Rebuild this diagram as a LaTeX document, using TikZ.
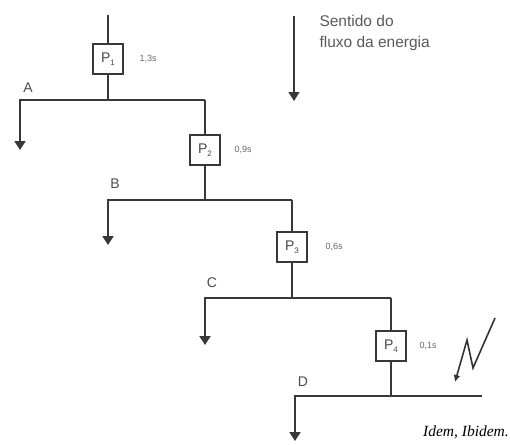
\documentclass[tikz,border=0pt]{standalone}
\usepackage{fontspec}
\setmainfont{Liberation Sans}
\newfontfamily\timesf{Liberation Serif}
\usetikzlibrary{arrows.meta}
\newcommand{\relayname}[1]{P\raisebox{-2.5pt}{\fontsize{8}{8}\selectfont #1}}
\begin{document}
\begin{tikzpicture}[x=1pt,y=-1pt,
  wire/.style={line width=2.1pt, draw=black!78},
  load/.style={wire, -{Triangle[width=11pt,length=9pt]}},
  relay/.style={draw=black!78, line width=2.1pt, minimum width=30pt, minimum height=30pt,
    inner sep=0pt, font=\fontsize{14}{14}\selectfont, text=black!72, fill=white},
  tlabel/.style={font=\fontsize{9}{9}\selectfont, text=black!60, anchor=west},
  busname/.style={font=\fontsize{14}{14}\selectfont, text=black!70},
  legend/.style={font=\fontsize{15.5}{21}\selectfont, text=black!65, align=left, anchor=north west},
  fault/.style={line width=1.6pt, draw=black!80, -{Latex[length=7pt,width=7pt]}}]
\useasboundingbox (0,0) rectangle (510,444);

% feeders and relays
\coordinate (top) at (108,15);
\node[relay] (p1) at (108,59) {\relayname{1}};
\node[relay] (p2) at (205,150) {\relayname{2}};
\node[relay] (p3) at (292,247) {\relayname{3}};
\node[relay] (p4) at (391,346) {\relayname{4}};

% bus A
\coordinate (ja) at (108,100);
\coordinate (la) at (20,100);
\coordinate (ra) at (205,100);
\coordinate (ta) at (20,150);
% bus B
\coordinate (jb) at (205,200);
\coordinate (lb) at (108,200);
\coordinate (rb) at (292,200);
\coordinate (tb) at (108,245);
% bus C
\coordinate (jc) at (292,298);
\coordinate (lc) at (205,298);
\coordinate (rc) at (391,298);
\coordinate (tc) at (205,345);
% bus D
\coordinate (ld) at (295,396);
\coordinate (jd) at (391,396);
\coordinate (rd) at (482,396);
\coordinate (td) at (295,441);

\draw[wire] (top) -- (p1);
\draw[wire] (p1) -- (ja);
\draw[load] (ra) -- (la) -- (ta);
\draw[wire] (ra) -- (p2);
\draw[wire] (p2) -- (jb);
\draw[load] (rb) -- (lb) -- (tb);
\draw[wire] (rb) -- (p3);
\draw[wire] (p3) -- (jc);
\draw[load] (rc) -- (lc) -- (tc);
\draw[wire] (rc) -- (p4);
\draw[wire] (p4) -- (jd);
\draw[load] (rd) -- (ld) -- (td);

% bus names
\node[busname] (na) at (28,88) {A};
\node[busname] (nb) at (115,184) {B};
\node[busname] (nc) at (212,283) {C};
\node[busname] (nd) at (303,382) {D};

% relay times
\node[tlabel] (t1) at ([xshift=12pt]p1.east) {1,3s};
\node[tlabel] (t2) at ([xshift=10pt]p2.east) {0,9s};
\node[tlabel] (t3) at ([xshift=14pt]p3.east) {0,6s};
\node[tlabel] (t4) at ([xshift=9pt]p4.east) {0,1s};

% energy flow legend
\coordinate (fs) at (294,16);
\coordinate (fe) at (294,101);
\draw[load, line width=1.6pt] (fs) -- (fe);
\node[legend] (leg) at (316,12) {Sentido do\\fluxo da energia};

% fault
\coordinate (f1) at (495,318);
\coordinate (f2) at (473,368);
\coordinate (f3) at (467,340);
\coordinate (f4) at (455,382);
\draw[fault] (f1) -- (f2) -- (f3) -- (f4);

% source
\node[anchor=base east, font=\timesf\itshape\fontsize{15.5}{15.5}\selectfont, inner sep=0pt] (src) at (509,436) {Idem, Ibidem.};
\end{tikzpicture}
\end{document}
